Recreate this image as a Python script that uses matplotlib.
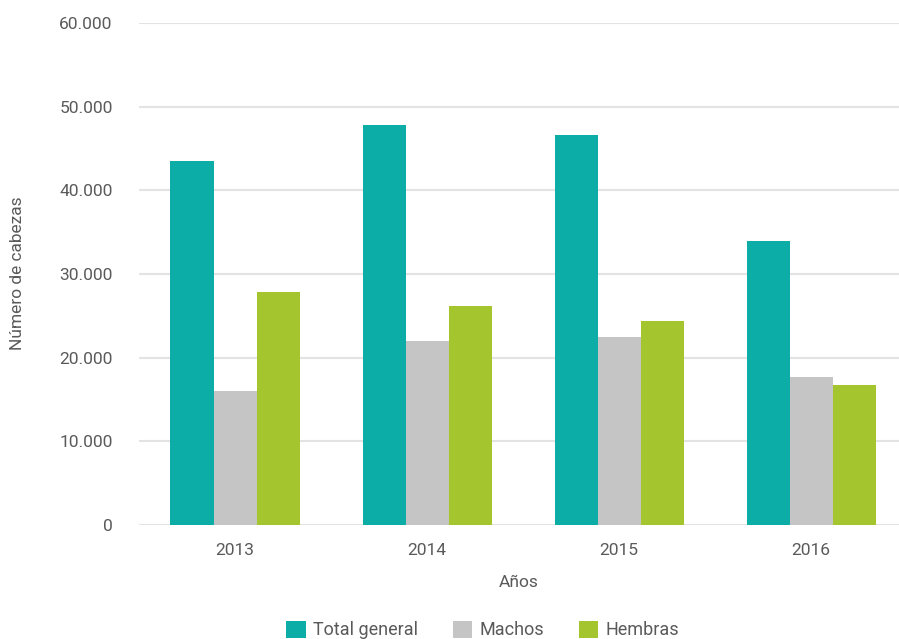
import matplotlib.pyplot as plt
import numpy as np
from matplotlib.ticker import FuncFormatter

# data
years = ['2013', '2014', '2015', '2016']
total_general = [43500, 47800, 46600, 33900]
machos = [16000, 22000, 22500, 17700]
hembras = [27800, 26200, 24400, 16700]

series = ['Total general', 'Machos', 'Hembras']
colors = ['#0BADA6', '#C5C5C5', '#A5C52F']
text_color = '#5A5A5A'

plt.rcParams['font.family'] = ['Roboto', 'DejaVu Sans']

fig = plt.figure(figsize=(8.99, 6.39), dpi=100)
ax = fig.add_axes([139 / 899, 114 / 639, 760 / 899, 502 / 639])

x = np.arange(len(years))
w = 0.224
for i, (name, vals) in enumerate(zip(series, [total_general, machos, hembras])):
    ax.bar(x + (i - 1) * w, vals, width=w, color=colors[i], label=name, zorder=3)

ax.set_xlim(-0.5, 3.458)
ax.set_ylim(0, 60000)
ax.set_yticks(np.arange(0, 60001, 10000))
ax.yaxis.set_major_formatter(FuncFormatter(lambda v, p: f'{int(v):,}'.replace(',', '.')))
ax.set_xticks(x)
ax.set_xticklabels(years)
ax.grid(axis='y', color='#E3E3E3', linewidth=1.5, zorder=0)
ax.tick_params(length=0, labelsize=12.5, colors=text_color)
ax.tick_params(axis='y', pad=19)
ax.tick_params(axis='x', pad=13)
for s in ax.spines.values():
    s.set_visible(False)

ax.set_xlabel('Años', fontsize=12.5, color=text_color, labelpad=12)
ax.set_ylabel('Número de cabezas', fontsize=12.5, color=text_color)
ax.yaxis.set_label_coords((25 - 139) / 760, (524 - 272) / 502)

fig.legend(loc='center', bbox_to_anchor=(0.537, 0.014), ncol=3, frameon=False,
           fontsize=13, handlelength=1.1, handleheight=1.1, columnspacing=1.9,
           handletextpad=0.4, labelcolor=text_color)

fig.savefig('out.png', dpi=100)
